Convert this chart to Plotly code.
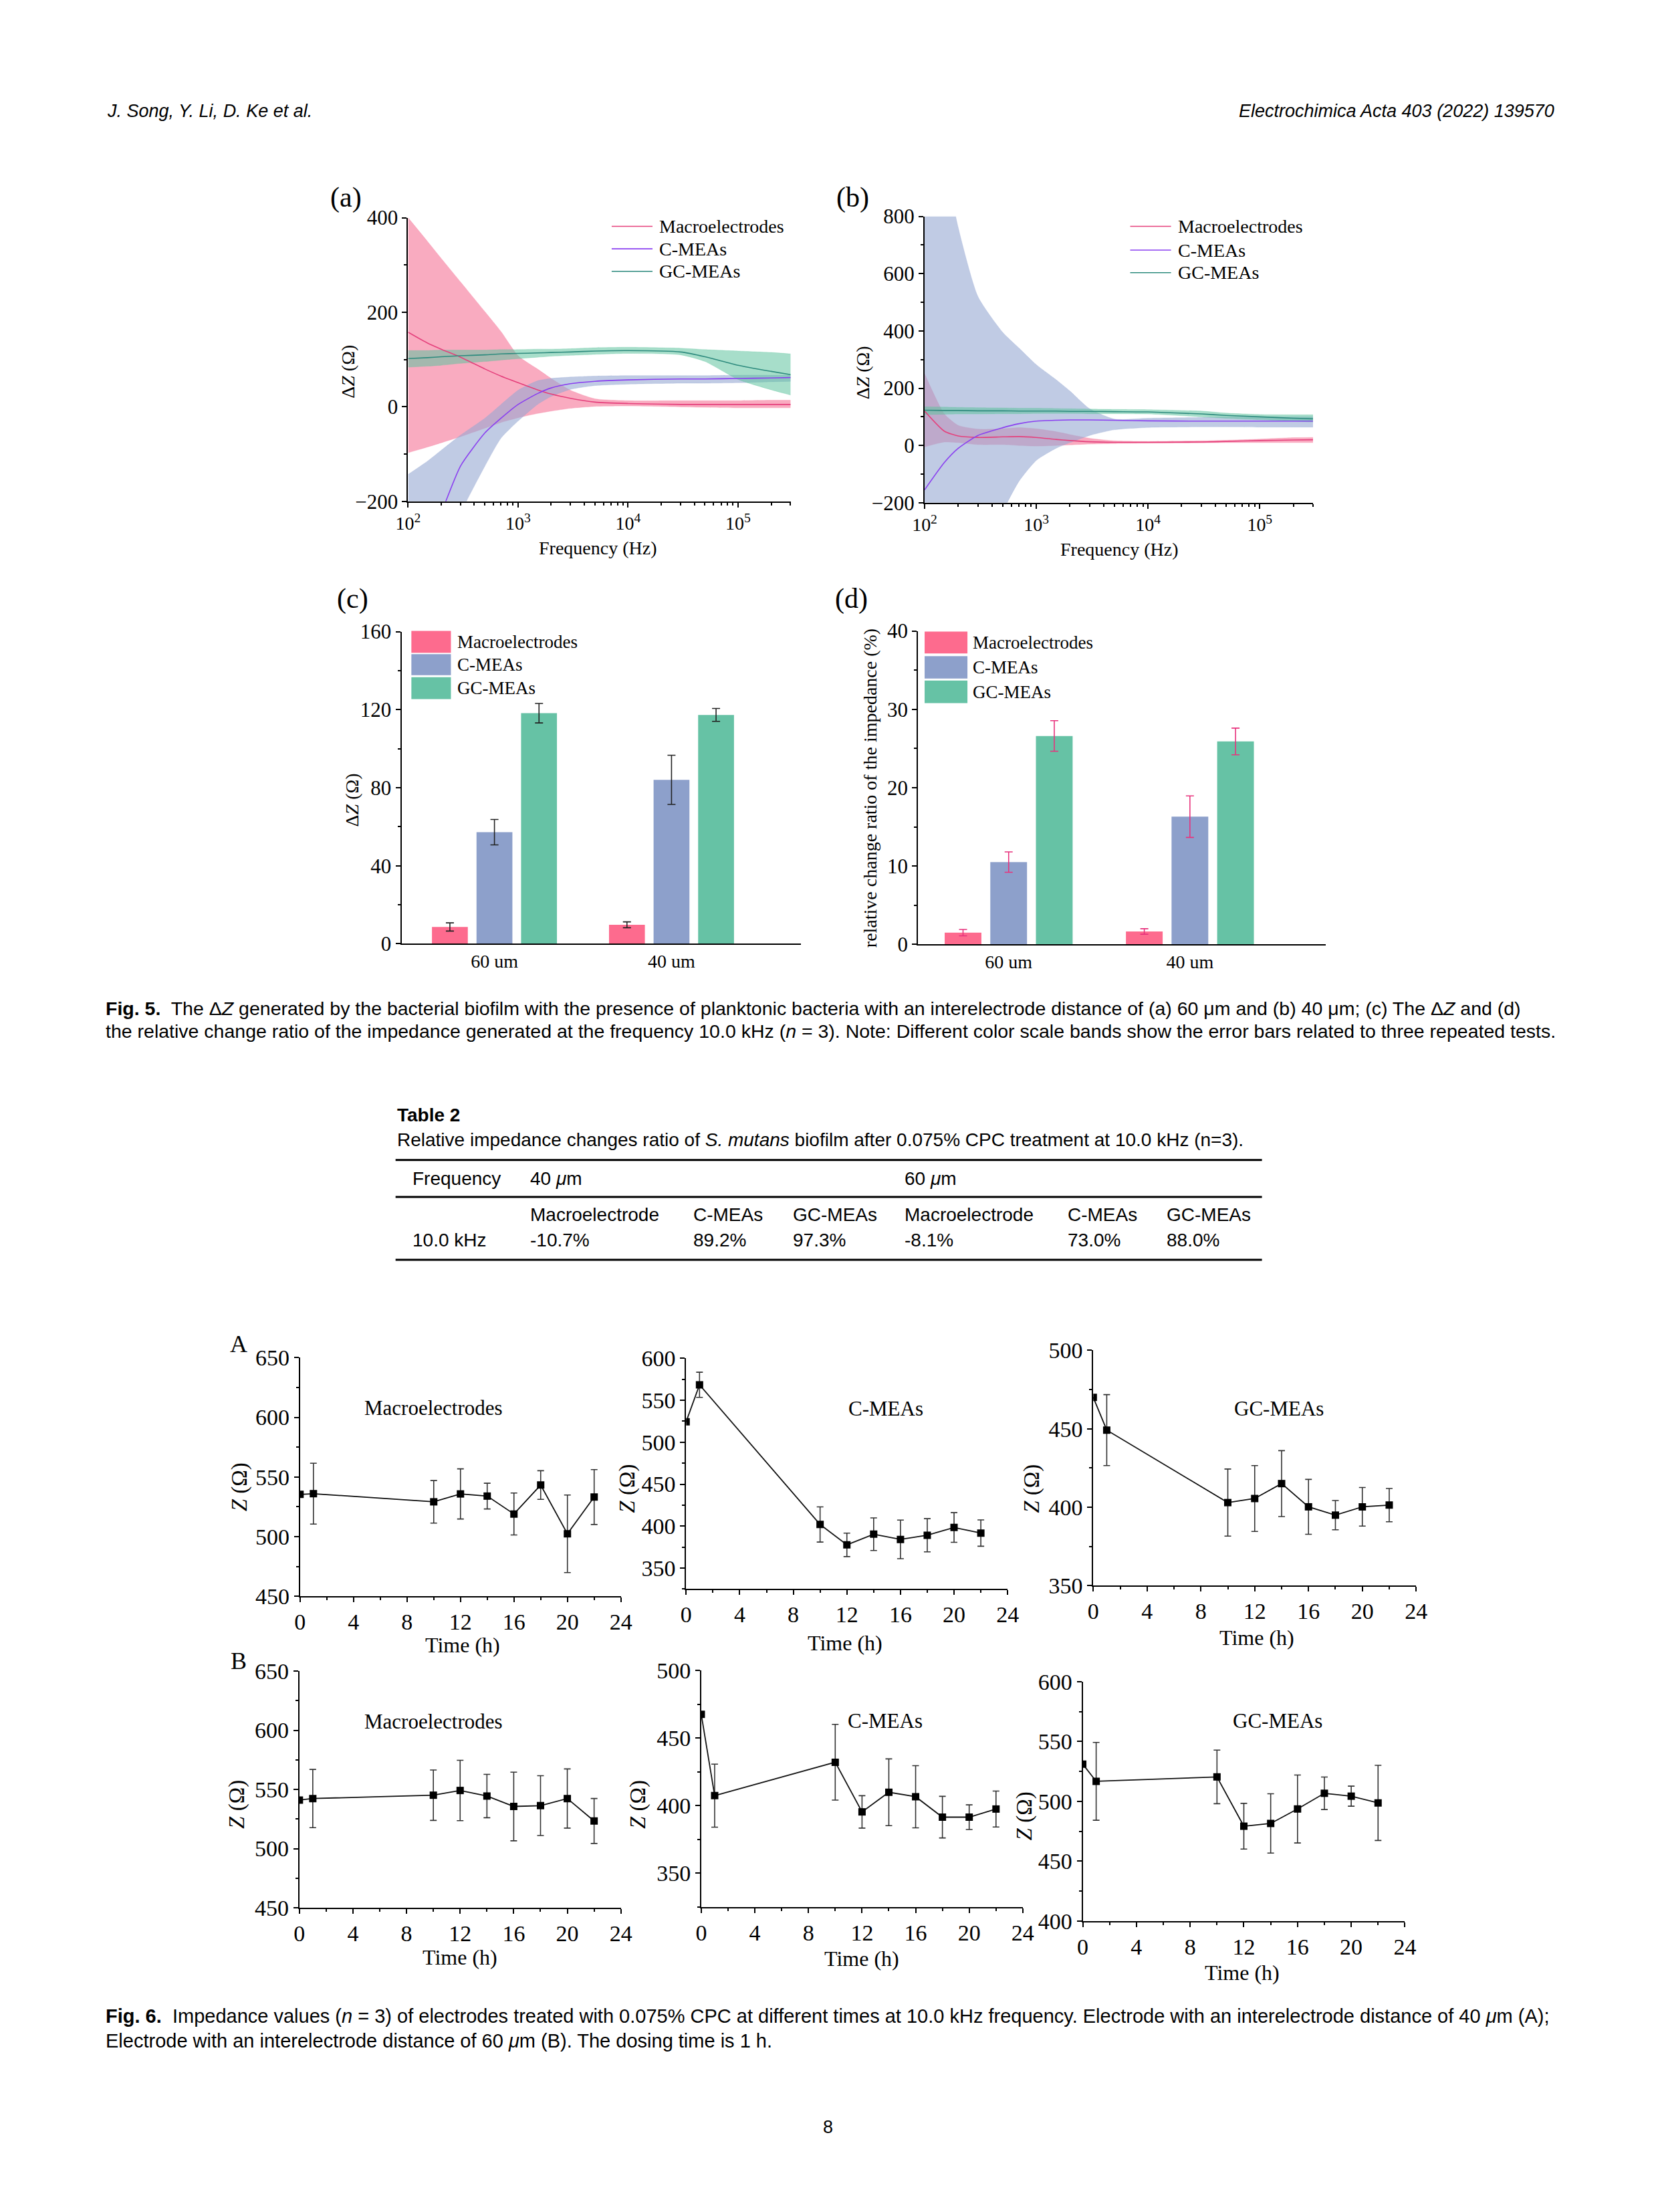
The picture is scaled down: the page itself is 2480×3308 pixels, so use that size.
import plotly.graph_objects as go

W, H = 2480, 3308
SERIF = "Liberation Serif"
SANS = "Liberation Sans"

SERIES = ["Macroelectrodes", "C-MEAs", "GC-MEAs"]

# ---------------- Fig. 5 (a)/(b): Delta Z vs frequency ----------------
freq_hz = [100, 150, 200, 300, 500, 700, 1000, 1500, 2000, 3000, 5000,
           10000, 30000, 50000, 100000, 200000, 300000]

a_macro_mean = [158, 135, 122, 105, 80, 65, 51, 36, 27, 18, 10, 7, 5, 5, 5, 5, 5]
a_macro_upper = [400, 350, 314, 264, 201, 159, 108, 80, 60, 35, 17, 13, 13, 13, 13, 14, 14]
a_macro_lower = [-97, -85, -76, -63, -45, -33, -23, -14, -9, -3, 1, 2, 0, -1, -2, -2, -2]
a_cmea_mean = [-420, -300, -225, -125, -55, -24, 5, 28, 40, 49, 54, 57, 59, 59, 60, 61, 62]
a_cmea_upper = [-143, -115, -92, -60, -24, 5, 35, 55, 60, 63, 65, 66, 66, 66, 67, 67, 67]
a_cmea_lower = [-600, -450, -330, -225, -125, -66, -30, 5, 22, 37, 45, 48, 50, 50, 51, 53, 54]
a_gc_mean = [102, 104, 106, 108, 110, 112, 113, 114, 115, 116, 118, 119, 116, 106, 88, 75, 68]
a_gc_upper = [119, 119, 120, 120, 120, 121, 121, 122, 122, 123, 125, 126, 124, 121, 118, 115, 112]
a_gc_lower = [84, 86, 88, 92, 96, 99, 102, 105, 107, 109, 111, 113, 110, 96, 58, 36, 25]

b_macro_mean = [120, 50, 33, 28, 30, 31, 28, 21, 17, 13, 11, 11, 12, 14, 17, 19, 20]
b_macro_upper = [250, 110, 70, 57, 58, 62, 58, 48, 38, 25, 16, 14, 16, 18, 22, 27, 28]
b_macro_lower = [-5, 12, 10, 3, 3, 0, -2, 0, 2, 5, 7, 8, 9, 10, 10, 10, 10]
b_cmea_mean = [-155, -60, -10, 35, 62, 76, 85, 88, 89, 89, 88, 86, 85, 85, 85, 85, 85]
b_cmea_upper = [1400, 1000, 760, 520, 395, 340, 282, 230, 190, 128, 92, 95, 98, 100, 100, 100, 100]
b_cmea_lower = [-900, -700, -560, -400, -230, -125, -52, -10, 10, 35, 55, 63, 65, 65, 64, 64, 64]
b_gc_mean = [123, 122, 122, 121, 121, 120, 120, 120, 119, 119, 118, 117, 110, 105, 100, 95, 93]
b_gc_upper = [135, 134, 133, 132, 131, 130, 130, 129, 128, 127, 126, 125, 120, 113, 108, 107, 107]
b_gc_lower = [108, 109, 110, 110, 111, 111, 112, 112, 112, 111, 111, 110, 100, 95, 90, 85, 82]

freq_tickvals = [100, 1000, 10000, 100000]
freq_ticktext = ["10<sup>2</sup>", "10<sup>3</sup>", "10<sup>4</sup>", "10<sup>5</sup>"]

# ---------------- Fig. 5 (c)/(d): bars at 10 kHz ----------------
bar_groups = ["60 um", "40 um"]
c_macro = [8.6, 9.7]
c_macro_err = [2.1, 1.5]
c_cmea = [57.2, 84.0]
c_cmea_err = [6.5, 12.6]
c_gc = [118.2, 117.3]
c_gc_err = [5.0, 3.3]

d_macro = [1.5, 1.65]
d_macro_err = [0.4, 0.35]
d_cmea = [10.5, 16.3]
d_cmea_err = [1.3, 2.65]
d_gc = [26.6, 25.9]
d_gc_err = [1.95, 1.7]

# ---------------- Table 2 ----------------
table_freq = "10.0 kHz"
table_gaps = ["40 <i>\u03bc</i>m", "60 <i>\u03bc</i>m"]
table_cols = ["Macroelectrode", "C-MEAs", "GC-MEAs", "Macroelectrode", "C-MEAs", "GC-MEAs"]
table_vals = ["-10.7%", "89.2%", "97.3%", "-8.1%", "73.0%", "88.0%"]

# ---------------- Fig. 6: impedance vs time ----------------
time_h = [0, 1, 10, 12, 14, 16, 18, 20, 22]
A_macro = [535.4, 536.0, 529.2, 535.8, 534.0, 519.0, 543.3, 502.4, 533.2]
A_macro_err = [None, 25.5, 17.8, 21.0, 10.8, 17.6, 12.0, 32.5, 23.0]
A_cmea = [524.4, 568.4, 402.0, 377.7, 390.4, 384.2, 389.1, 398.4, 391.7]
A_cmea_err = [None, 15.0, 21.0, 14.0, 19.4, 23.0, 19.8, 17.7, 15.7]
A_gc = [470.0, 449.2, 403.0, 405.6, 415.1, 400.3, 395.0, 400.3, 401.4]
A_gc_err = [None, 22.6, 21.4, 21.0, 21.0, 17.5, 9.3, 12.3, 10.6]
B_macro = [541.0, 542.3, 545.1, 549.1, 544.4, 535.6, 536.3, 542.3, 523.3]
B_macro_err = [None, 24.6, 21.3, 25.5, 18.3, 29.0, 25.3, 25.0, 19.0]
B_cmea = [467.5, 407.4, 432.1, 395.4, 409.9, 406.6, 391.5, 391.5, 397.5]
B_cmea_err = [None, 23.3, 28.0, 12.0, 24.7, 23.0, 15.4, 9.1, 13.3]
B_gc = [531.1, 516.7, 520.4, 479.2, 481.5, 493.6, 506.7, 504.3, 498.7]
B_gc_err = [None, 32.5, 22.4, 19.1, 24.8, 28.4, 13.6, 8.4, 31.4]

# ---------------- styles ----------------
LINE = {"Macroelectrodes": "#e5407c", "C-MEAs": "#8a3ff0", "GC-MEAs": "#2e8b7e"}
BAND = {"Macroelectrodes": "rgba(246,135,165,0.70)",
        "C-MEAs": "rgba(150,168,210,0.60)",
        "GC-MEAs": "rgba(95,195,158,0.55)"}
BAR = {"Macroelectrodes": "#fd6b8e", "C-MEAs": "#8da0cb", "GC-MEAs": "#66c2a5"}


def px(x):
    return x / W


def py(y):
    return 1 - y / H


def dom_x(a, b):
    return [a / W, b / W]


def dom_y(top, bottom):
    return [1 - bottom / H, 1 - top / H]


fig = go.Figure()


def add_band_panel(xa, ya, means, uppers, lowers):
    for name, up, lo in zip(SERIES, uppers, lowers):
        fig.add_trace(go.Scatter(x=freq_hz, y=lo, mode="lines", xaxis=xa, yaxis=ya,
                                 line=dict(color=BAND[name], width=0.5, shape="spline", smoothing=0.6),
                                 hoverinfo="skip", showlegend=False))
        fig.add_trace(go.Scatter(x=freq_hz, y=up, mode="lines", xaxis=xa, yaxis=ya, fill="tonexty",
                                 fillcolor=BAND[name],
                                 line=dict(color=BAND[name], width=0.5, shape="spline", smoothing=0.6),
                                 hoverinfo="skip", showlegend=False))
    for name, m in zip(SERIES, means):
        fig.add_trace(go.Scatter(x=freq_hz, y=m, mode="lines", name=name, xaxis=xa, yaxis=ya,
                                 line=dict(color=LINE[name], width=1.6, shape="spline", smoothing=0.6),
                                 showlegend=False))


add_band_panel("x", "y", [a_macro_mean, a_cmea_mean, a_gc_mean],
               [a_macro_upper, a_cmea_upper, a_gc_upper],
               [a_macro_lower, a_cmea_lower, a_gc_lower])
add_band_panel("x2", "y2", [b_macro_mean, b_cmea_mean, b_gc_mean],
               [b_macro_upper, b_cmea_upper, b_gc_upper],
               [b_macro_lower, b_cmea_lower, b_gc_lower])

bar_x = [0, 1]
for name, vals, errs in zip(SERIES, [c_macro, c_cmea, c_gc], [c_macro_err, c_cmea_err, c_gc_err]):
    fig.add_trace(go.Bar(x=bar_x, y=vals, name=name, xaxis="x3", yaxis="y3", showlegend=False,
                         marker=dict(color=BAR[name], line=dict(width=0)),
                         error_y=dict(type="data", array=errs, color="#222", thickness=1.6, width=6)))
for name, vals, errs in zip(SERIES, [d_macro, d_cmea, d_gc], [d_macro_err, d_cmea_err, d_gc_err]):
    fig.add_trace(go.Bar(x=bar_x, y=vals, name=name, xaxis="x4", yaxis="y4", showlegend=False,
                         marker=dict(color=BAR[name], line=dict(width=0)),
                         error_y=dict(type="data", array=errs, color="#e8337d", thickness=1.6, width=6)))

fig6_series = [(A_macro, A_macro_err), (A_cmea, A_cmea_err), (A_gc, A_gc_err),
               (B_macro, B_macro_err), (B_cmea, B_cmea_err), (B_gc, B_gc_err)]
for i, (vals, errs) in enumerate(fig6_series):
    k = i + 5
    fig.add_trace(go.Scatter(x=time_h, y=vals, mode="lines+markers", xaxis=f"x{k}", yaxis=f"y{k}",
                             showlegend=False,
                             line=dict(color="#111", width=1.8),
                             marker=dict(symbol="square", size=11, color="#000"),
                             error_y=dict(type="data", array=errs, color="#333", thickness=1.6, width=5)))

# ---------------- axes ----------------
AX = dict(showline=True, linecolor="black", linewidth=2, ticks="outside", tickcolor="black",
          tickwidth=2, ticklen=7, showgrid=False, zeroline=False, mirror=False)
MINOR = dict(ticks="outside", ticklen=4, tickwidth=1.5, tickcolor="black", showgrid=False)

log_minor = [m * 10 ** e for e in range(2, 6) for m in range(2, 10) if m * 10 ** e <= 300000]

layout = dict(
    width=W, height=H, autosize=False,
    margin=dict(l=0, r=0, t=0, b=0),
    paper_bgcolor="white", plot_bgcolor="white",
    barmode="group", bargap=0.245, bargroupgap=0.195,
    showlegend=False,
)

TF5 = dict(family=SERIF, size=31, color="black")
TF5X = dict(family=SERIF, size=28, color="black")
TF6 = dict(family=SERIF, size=34, color="black")

for k, (xd, yd, yr, ydt, ymin) in {
    "": ((592, 1173), (303, 732), [-200, 400], 200, 100),
    "2": ((1376, 1966), (301, 734), [-200, 800], 200, 100),
}.items():
    layout["xaxis" + k] = dict(AX, domain=dom_x(*xd), anchor="y" + k, type="log", range=[2, 5.48],
                               tickvals=freq_tickvals, ticktext=freq_ticktext, tickfont=TF5X,
                               minor=dict(MINOR, tickvals=log_minor))
    layout["yaxis" + k] = dict(AX, domain=dom_y(*yd), anchor="x" + k, range=yr, dtick=ydt, tick0=yr[0],
                               tickfont=TF5, minor=dict(MINOR, dtick=ymin))

for k, (xd, yd, xr, yr, ydt, ymin) in {
    "3": ((582, 1188), (929, 1401), [-0.525, 1.73], [0, 160], 40, 20),
    "4": ((1366, 1985), (928, 1402), [-0.50, 1.75], [0, 40], 10, 5),
}.items():
    layout["xaxis" + k] = dict(AX, domain=dom_x(*xd), anchor="y" + k, range=xr, ticks="",
                               tickvals=bar_x, ticktext=bar_groups,
                               tickfont=dict(family=SERIF, size=28, color="black"))
    layout["yaxis" + k] = dict(AX, domain=dom_y(*yd), anchor="x" + k, range=yr, dtick=ydt, tick0=0,
                               tickfont=TF5, minor=dict(MINOR, dtick=ymin))

fig6_axes = [
    ((428, 915), (2027, 2388), [450, 650], 450),
    ((1014, 1502), (2028, 2377), [325, 600], 350),
    ((1632, 2122), (2016, 2372), [350, 500], 350),
    ((427, 915), (2501, 2859), [450, 650], 450),
    ((1037, 1525), (2500, 2858), [325, 500], 350),
    ((1616, 2105), (2517, 2879), [400, 600], 400),
]
for i, (xd, yd, yr, t0) in enumerate(fig6_axes):
    k = str(i + 5)
    layout["xaxis" + k] = dict(AX, domain=dom_x(*xd), anchor="y" + k, range=[0, 24], dtick=4, tick0=0,
                               tickfont=TF6, minor=dict(MINOR, dtick=2))
    layout["yaxis" + k] = dict(AX, domain=dom_y(*yd), anchor="x" + k, range=yr, dtick=50, tick0=t0,
                               tickfont=TF6, minor=dict(MINOR, dtick=25, tick0=t0 - 25))

fig.update_layout(**layout)

# ---------------- annotations ----------------
ann = []
shapes = []


def text(x, y, s, size, family=SERIF, xanchor="left", yanchor="middle", angle=0, color="black"):
    ann.append(dict(x=px(x), y=py(y), xref="paper", yref="paper", text=s, showarrow=False,
                    xanchor=xanchor, yanchor=yanchor, textangle=angle,
                    font=dict(family=family, size=size, color=color)))


# page header
text(133, 142, "<i>J. Song, Y. Li, D. Ke et al.</i>", 27, SANS)
text(2334, 142, "<i>Electrochimica Acta 403 (2022) 139570</i>", 27, SANS, xanchor="right")

# panel letters
text(498, 273, "(a)", 42, xanchor="center")
text(1267, 273, "(b)", 42, xanchor="center")
text(508, 879, "(c)", 42, xanchor="center")
text(1265, 879, "(d)", 42, xanchor="center")

# axis titles fig 5
text(500, 536, "\u0394<i>Z</i> (\u03a9)", 28, xanchor="center", angle=-90)
text(880, 802, "Frequency (Hz)", 28, xanchor="center")
text(1283, 537, "\u0394<i>Z</i> (\u03a9)", 28, xanchor="center", angle=-90)
text(1671, 804, "Frequency (Hz)", 28, xanchor="center")
text(507, 1184, "\u0394<i>Z</i> (\u03a9)", 28, xanchor="center", angle=-90)
text(1294, 1166, "relative change ratio of the impedance (%)", 28, xanchor="center", angle=-90)

# line legends for (a) and (b)
for (lx0, lx1, tx, rows) in [
    (901, 963, 971, [316, 350, 384]),
    (1688, 1750, 1759, [316, 352, 386]),
]:
    for name, ry in zip(SERIES, rows):
        shapes.append(dict(type="line", xref="paper", yref="paper", x0=px(lx0), x1=px(lx1),
                           y0=py(ry), y1=py(ry), line=dict(color=LINE[name], width=1.6)))
        text(tx, ry, name, 28)

# swatch legends for (c) and (d)
for (sx0, sx1, tx, rows) in [
    (597, 657, 665, [(928, 961), (963, 995), (998, 1031)]),
    (1376, 1441, 1447, [(929, 962), (966, 1000), (1003, 1037)]),
]:
    for name, (y0, y1) in zip(SERIES, rows):
        shapes.append(dict(type="rect", xref="paper", yref="paper", x0=px(sx0), x1=px(sx1),
                           y0=py(y1), y1=py(y0), fillcolor=BAR[name], line=dict(width=0)))
        text(tx, (y0 + y1) / 2, name, 27)

# Fig 5 caption
text(131, 1499, "<b>Fig. 5.</b>  The \u0394<i>Z</i> generated by the bacterial biofilm with the presence of planktonic "
                "bacteria with an interelectrode distance of (a) 60 \u03bcm and (b) 40 \u03bcm; (c) The \u0394<i>Z</i> and (d)",
     28.5, SANS)
text(131, 1533, "the relative change ratio of the impedance generated at the frequency 10.0 kHz (<i>n</i> = 3). "
                "Note: Different color scale bands show the error bars related to three repeated tests.", 28.5, SANS)

# Table 2
text(573, 1660, "<b>Table 2</b>", 28, SANS)
text(573, 1697, "Relative impedance changes ratio of <i>S. mutans</i> biofilm after 0.075% CPC treatment at "
                "10.0 kHz (n=3).", 28, SANS)
for yl in [1728, 1784, 1879]:
    shapes.append(dict(type="line", xref="paper", yref="paper", x0=px(573), x1=px(1888),
                       y0=py(yl), y1=py(yl), line=dict(color="black", width=3)))
text(597, 1756, "Frequency", 28, SANS)
text(775, 1756, table_gaps[0], 28, SANS)
text(1343, 1756, table_gaps[1], 28, SANS)
col_x = [775, 1023, 1174, 1343, 1591, 1741]
for cx, cname, cval in zip(col_x, table_cols, table_vals):
    text(cx, 1811, cname, 28, SANS)
    text(cx, 1849, cval, 28, SANS)
text(597, 1849, table_freq, 28, SANS)

# Fig 6 panel labels and titles
text(335, 2006, "A", 36, xanchor="center")
text(335, 2486, "B", 36, xanchor="center")
titles6 = [(631, 2103, "Macroelectrodes"), (1317, 2104, "C-MEAs"), (1914, 2104, "GC-MEAs"),
           (631, 2577, "Macroelectrodes"), (1316, 2576, "C-MEAs"), (1912, 2576, "GC-MEAs")]
for x, y, s in titles6:
    text(x, y, s, 31, xanchor="center")
ytitles6 = [(336, 2223), (925, 2225), (1538, 2225), (333, 2703), (941, 2703), (1528, 2720)]
for x, y in ytitles6:
    text(x, y, "<i>Z</i> (\u03a9)", 33, xanchor="center", angle=-90)
xtitles6 = [(675, 2462), (1255, 2459), (1880, 2450), (671, 2934), (1281, 2936), (1858, 2957)]
for x, y in xtitles6:
    text(x, y, "Time (h)", 32, xanchor="center")

# Fig 6 caption and page number
text(131, 3023, "<b>Fig. 6.</b>  Impedance values (<i>n</i> = 3) of electrodes treated with 0.075% CPC at different "
                "times at 10.0 kHz frequency. Electrode with an interelectrode distance of 40 <i>\u03bc</i>m (A);",
     29, SANS)
text(131, 3060, "Electrode with an interelectrode distance of 60 <i>\u03bc</i>m (B). The dosing time is 1 h.", 29, SANS)
text(1229, 3191, "8", 27, SANS, xanchor="center")

fig.update_layout(annotations=ann, shapes=shapes)
fig.write_html("out.html")
